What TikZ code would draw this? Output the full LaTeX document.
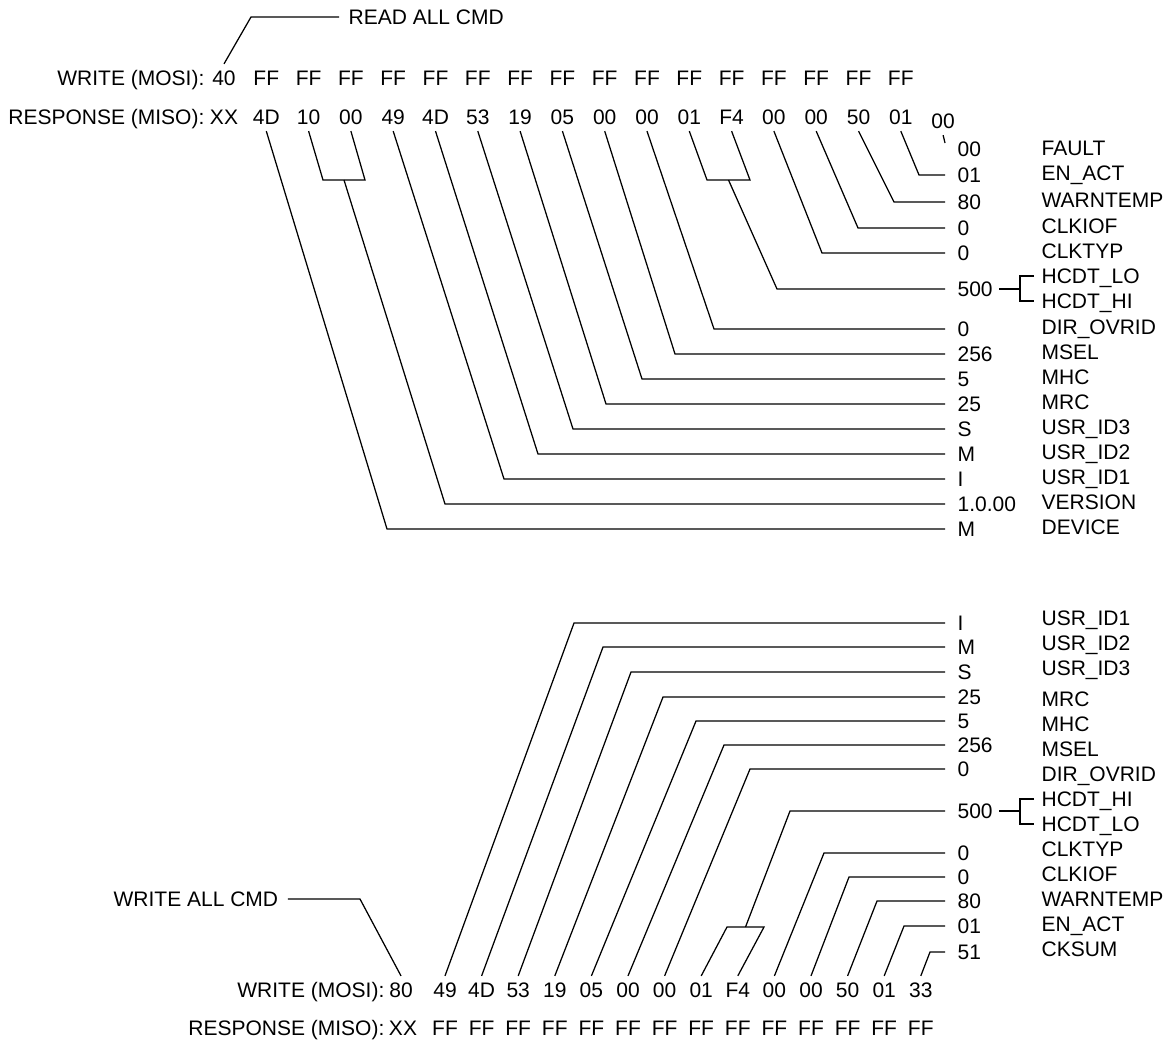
\documentclass[tikz,border=0pt]{standalone}
\usepackage{fontspec}
\setmainfont{Liberation Sans}
\usepackage{tikz}
\usetikzlibrary{calc}
\newcommand{\diagfont}{\fontsize{21}{25}\selectfont}
\tikzset{
  txt/.style={font=\diagfont, inner sep=0pt, text height=15pt, text depth=0pt},
  byte/.style={txt, inner ysep=6pt},
  val/.style={txt, anchor=west},
  fld/.style={txt, anchor=west},
  lead/.style={shorten >=12pt},
}

\begin{document}
\begin{tikzpicture}[x=1pt, y=-1pt, line width=1.25pt]
\useasboundingbox (0,0) rectangle (1174,1042);

% read all frame
\node[txt, anchor=east] (twlab) at (205,78) {WRITE (MOSI):};
\node[txt, anchor=east] (trlab) at (205,117) {RESPONSE (MISO):};
\foreach \b [count=\i from 0] in {40,FF,FF,FF,FF,FF,FF,FF,FF,FF,FF,FF,FF,FF,FF,FF,FF}
    \node[byte] (tw\i) at ({224+42.3*\i},78) {\b};
\foreach \b [count=\i from 0] in {XX,4D,10,00,49,4D,53,19,05,00,00,01,F4,00,00,50,01}
    \node[byte] (tr\i) at ({224+42.3*\i},117) {\b};
\node[byte] (tr17) at ({224+42.3*17},121) {00};

\node[txt, anchor=west] (readcmd) at (348,17) {READ ALL CMD};
\coordinate (kread) at (251,17);
\draw[shorten >=9pt] (tw0.north) -- (kread) -- (readcmd.west);

\foreach \i/\xc/\yr/\v/\f in {1/387/529/M/DEVICE, 4/504/479/I/USR\_ID1, 5/538/454/M/USR\_ID2,
    6/573/429/S/USR\_ID3, 7/606/404/25/MRC, 8/642/379/5/MHC, 9/675/354/256/MSEL,
    10/714/329/0/DIR\_OVRID, 13/822/253/0/CLKTYP, 14/858/228/0/CLKIOF,
    15/894/202/80/WARNTEMP, 16/919/175/01/EN\_ACT}{
    \node[val] (tv\i) at (957,\yr) {\v};
    \node[fld] (tf\i) at (1041,\yr-2) {\f};
    \coordinate (tk\i) at (\xc,\yr);
    \draw[lead] (tr\i.south) -- (tk\i) -- (tv\i.west);
}

% fault byte
\node[val] (tv17) at (957,149) {00};
\node[fld] (tf17) at (1041,148) {FAULT};
\coordinate (tk17) at (945,143);
\draw (tr17.south) -- (tk17);

% version pair
\coordinate (tb2) at (323,180);
\coordinate (tb3) at (365,180);
\coordinate (tb23) at (344,180);
\draw (tr2.south) -- (tb2) -- (tb3) -- (tr3.south);
\node[val] (tver) at (957,504) {1.0.00};
\node[fld] (tfver) at (1041,502) {VERSION};
\coordinate (tkver) at (445,504);
\draw[lead] (tb23) -- (tkver) -- (tver.west);

% hcdt pair
\coordinate (tb11) at (707,180);
\coordinate (tb12) at (750,180);
\coordinate (tb1112) at (728.5,180);
\draw (tr11.south) -- (tb11) -- (tb12) -- (tr12.south);
\node[val] (t500) at (957,289) {500};
\node[fld] (tflo) at (1041,276) {HCDT\_LO};
\node[fld] (tfhi) at (1041,301) {HCDT\_HI};
\coordinate (tk1112) at (777,289);
\draw[lead] (tb1112) -- (tk1112) -- (t500.west);
\coordinate (tbr) at (1020,289);
\draw[shorten <=6pt] (t500.east) -- (tbr);
\draw[shorten <=7pt, shorten >=7pt] (tflo.west) -| (tbr) |- (tfhi.west);

% write all frame
\node[txt, anchor=east] (bwlab) at (385,990) {WRITE (MOSI):};
\node[txt, anchor=east] (brlab) at (385,1028) {RESPONSE (MISO):};
\node[byte] (bw0) at (401,990) {80};
\foreach \b [count=\i] in {49,4D,53,19,05,00,00,01,F4,00,00,50,01,33}
    \node[byte] (bw\i) at ({445+36.6*(\i-1)},990) {\b};
\node[byte] (br0) at (403,1028) {XX};
\foreach \i in {1,...,14}
    \node[byte] (br\i) at ({445+36.6*(\i-1)},1028) {FF};

\node[txt, anchor=west] (writecmd) at (113,899) {WRITE ALL CMD};
\coordinate (kwrite) at (360,899);
\draw[shorten <=9pt] (writecmd.east) -- (kwrite) -- (bw0.north);

\foreach \i/\xc/\yr/\v/\ly/\f in {1/574/623/I/618/USR\_ID1, 2/603/647/M/643/USR\_ID2,
    3/631/672/S/668/USR\_ID3, 4/663/697/25/699/MRC, 5/696/721/5/724/MHC,
    6/724/745/256/749/MSEL, 7/750/769/0/774/DIR\_OVRID, 10/824/853/0/849/CLKTYP,
    11/849/877/0/874/CLKIOF, 12/877/901/80/899/WARNTEMP, 13/904/926/01/924/EN\_ACT,
    14/930/952/51/949/CKSUM}{
    \node[val] (bv\i) at (957,\yr) {\v};
    \node[fld] (bf\i) at (1041,\ly) {\f};
    \coordinate (bk\i) at (\xc,\yr);
    \draw[lead] (bw\i.north) -- (bk\i) -- (bv\i.west);
}

% hcdt pair
\coordinate (bb8) at (727,927);
\coordinate (bb9) at (764,927);
\coordinate (bb89) at (745.5,927);
\draw (bw8.north) -- (bb8) -- (bb9) -- (bw9.north);
\node[val] (b500) at (957,811) {500};
\node[fld] (bfhi) at (1041,799) {HCDT\_HI};
\node[fld] (bflo) at (1041,824) {HCDT\_LO};
\coordinate (bk89) at (790,811);
\draw[lead] (bb89) -- (bk89) -- (b500.west);
\coordinate (bbr) at (1020,811);
\draw[shorten <=6pt] (b500.east) -- (bbr);
\draw[shorten <=7pt, shorten >=7pt] (bfhi.west) -| (bbr) |- (bflo.west);
\end{tikzpicture}
\end{document}
